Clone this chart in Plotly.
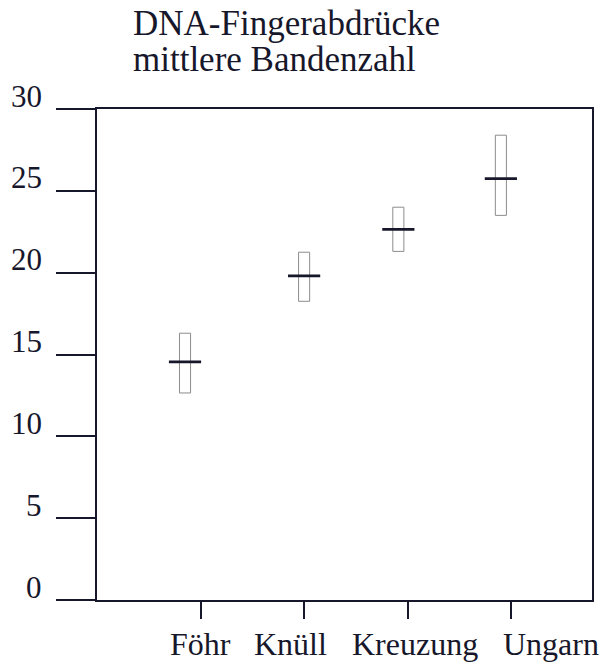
import plotly.graph_objects as go

categories = ["Föhr", "Knüll", "Kreuzung", "Ungarn"]
means = [14.55, 19.8, 22.65, 25.75]
lower = [12.65, 18.25, 21.3, 23.5]
upper = [16.3, 21.25, 24.0, 28.4]
y_ticks = [0, 5, 10, 15, 20, 25, 30]
title_lines = ["DNA-Fingerabdrücke", "mittlere Bandenzahl"]

# layout-only nudges (pixels / axis units)
nudge = [-0.15, 0.0, -0.09, -0.10]
label_shift = [0, -14, 7, 40]

pos_tick = [i + 1 for i in range(len(categories))]
pos_mark = [p + n for p, n in zip(pos_tick, nudge)]

ink = "#17172b"
serif = "Liberation Serif, Times New Roman, serif"
font = dict(family=serif, size=31, color=ink)
xfont = dict(family=serif, size=32, color=ink)

fig = go.Figure()
fig.add_trace(go.Bar(
    x=pos_mark,
    y=[u - l for u, l in zip(upper, lower)],
    base=lower,
    width=0.107,
    marker=dict(color="white", line=dict(color="#8c8c8c", width=1)),
    hoverinfo="skip",
))
fig.add_trace(go.Scatter(
    x=pos_mark,
    y=means,
    mode="markers",
    marker=dict(symbol="line-ew", size=23, line=dict(color=ink, width=2.8)),
))

annotations = []
for i, line in enumerate(title_lines):
    annotations.append(dict(
        text=line, xref="paper", yref="paper",
        x=(131 - 97) / 495, y=1 + (107 - 36 * i) / 491,
        xanchor="left", yanchor="top", align="left",
        showarrow=False,
        font=dict(family=serif, size=35, color=ink),
    ))
for v in y_ticks:
    annotations.append(dict(
        text=str(v), xref="paper", yref="y", x=0, y=v,
        xanchor="right", yanchor="middle", xshift=-53, yshift=13,
        showarrow=False, font=font,
    ))
for p, c, s in zip(pos_tick, categories, label_shift):
    annotations.append(dict(
        text=c, xref="x", yref="paper", x=p, y=0,
        xanchor="center", yanchor="top", xshift=s, yshift=-24,
        showarrow=False, font=xfont,
    ))

fig.update_layout(
    width=602, height=665,
    margin=dict(l=97, r=10, t=109, b=65, autoexpand=False),
    paper_bgcolor="white", plot_bgcolor="white",
    showlegend=False,
    font=font,
    annotations=annotations,
)
fig.update_xaxes(
    range=[0, 4.78],
    tickvals=pos_tick, showticklabels=False,
    automargin=False,
    showgrid=False, zeroline=False,
    showline=True, linecolor=ink, linewidth=2, mirror=True,
    ticks="outside", ticklen=17, tickwidth=2, tickcolor=ink,
)
fig.update_yaxes(
    range=[0, 30],
    tickvals=y_ticks, showticklabels=False,
    automargin=False,
    showgrid=False, zeroline=False,
    showline=True, linecolor=ink, linewidth=2, mirror=True,
    ticks="outside", ticklen=39, tickwidth=2, tickcolor=ink,
)

fig.write_html(
    "out.html",
    config={"displayModeBar": False},
    post_script="document.body.style.margin='0';document.body.style.overflow='hidden';",
)
